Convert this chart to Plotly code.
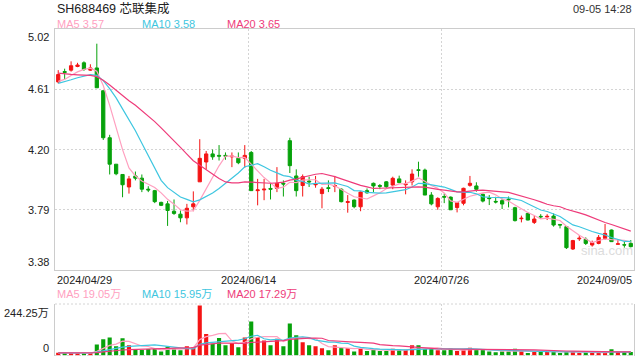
import numpy as np
import plotly.graph_objects as go

# ---------------- data ----------------
title_text = "SH688469 芯联集成"
timestamp_text = "09-05 14:28"

opens = [4.66, 4.73, 4.74, 4.765, 4.79, 4.74, 4.755, 4.60, 4.28, 4.10,
         4.03, 3.945, 4.02, 4.005, 3.93, 3.92, 3.84, 3.83, 3.78, 3.76,
         3.735, 3.81, 3.98, 4.115, 4.17, 4.16, 4.16, 4.15, 4.14, 4.14,
         4.18, 3.92, 3.925, 3.935, 3.935, 3.97, 4.26, 4.02, 3.955, 3.985,
         3.96, 3.90, 3.94, 3.95, 3.93, 3.84, 3.856, 3.81, 3.92, 3.97,
         3.955, 3.98, 3.958, 4.00, 3.96, 3.98, 4.062, 4.06, 3.89, 3.81,
         3.88, 3.876, 3.805, 3.834, 3.956, 3.952, 3.895, 3.87, 3.847, 3.852,
         3.862, 3.804, 3.729, 3.765, 3.704, 3.745, 3.741, 3.747, 3.69, 3.675,
         3.523, 3.592, 3.589, 3.55, 3.561, 3.595, 3.652, 3.555, 3.552, 3.561]
highs = [4.74, 4.75, 4.80, 4.79, 4.80, 4.78, 4.92, 4.60, 4.30, 4.10,
         4.03, 4.02, 4.05, 4.03, 3.95, 3.925, 3.845, 3.85, 3.86, 3.785,
         3.83, 3.915, 4.27, 4.19, 4.20, 4.23, 4.18, 4.18, 4.18, 4.23,
         4.19, 4.00, 4.00, 3.97, 4.08, 3.99, 4.28, 4.065, 4.03, 4.015,
         4.02, 3.945, 3.99, 4.02, 3.935, 3.89, 3.86, 3.915, 3.935, 3.975,
         3.965, 3.985, 4.015, 4.022, 3.99, 4.065, 4.117, 4.07, 3.91, 3.875,
         3.90, 3.88, 3.84, 3.94, 4.02, 3.977, 3.90, 3.89, 3.878, 3.865,
         3.88, 3.81, 3.75, 3.772, 3.75, 3.76, 3.76, 3.765, 3.693, 3.675,
         3.585, 3.618, 3.602, 3.58, 3.618, 3.693, 3.655, 3.589, 3.573, 3.584]
lows = [4.65, 4.68, 4.73, 4.76, 4.735, 4.735, 4.62, 4.265, 4.03, 4.025,
        3.875, 3.90, 3.99, 3.91, 3.91, 3.835, 3.815, 3.68, 3.755, 3.705,
        3.69, 3.78, 3.98, 4.065, 4.13, 4.125, 4.13, 4.08, 4.10, 4.075,
        3.92, 3.82, 3.855, 3.86, 3.91, 3.88, 4.04, 3.88, 3.88, 3.945,
        3.94, 3.80, 3.91, 3.91, 3.84, 3.77, 3.80, 3.78, 3.90, 3.91,
        3.93, 3.94, 3.93, 3.97, 3.895, 3.955, 4.015, 3.89, 3.82, 3.79,
        3.835, 3.788, 3.772, 3.82, 3.947, 3.913, 3.84, 3.822, 3.833, 3.795,
        3.806, 3.71, 3.704, 3.718, 3.693, 3.727, 3.72, 3.675, 3.663, 3.523,
        3.516, 3.578, 3.55, 3.539, 3.555, 3.584, 3.573, 3.555, 3.532, 3.534]
closes = [4.71, 4.725, 4.77, 4.775, 4.745, 4.755, 4.62, 4.28, 4.10, 4.035,
          3.96, 4.00, 4.005, 3.93, 3.925, 3.845, 3.82, 3.785, 3.765, 3.735,
          3.80, 3.83, 4.14, 4.17, 4.15, 4.155, 4.155, 4.155, 4.11, 4.16,
          3.92, 3.925, 3.93, 3.93, 3.97, 3.965, 4.09, 3.92, 4.015, 3.98,
          3.965, 3.93, 3.935, 3.955, 3.845, 3.845, 3.811, 3.91, 3.905, 3.952,
          3.95, 3.947, 4.004, 3.975, 3.965, 4.033, 4.058, 3.89, 3.83, 3.867,
          3.876, 3.79, 3.838, 3.936, 3.97, 3.929, 3.849, 3.866, 3.843, 3.829,
          3.858, 3.716, 3.732, 3.72, 3.727, 3.742, 3.745, 3.686, 3.686, 3.532,
          3.58, 3.596, 3.561, 3.566, 3.602, 3.629, 3.573, 3.558, 3.55, 3.539]
# volume, in 万
volumes = [13.6, 12.0, 12.0, 12.0, 12.0, 12.0, 54.2, 78.6, 88.3, 44.5,
           83.5, 49.4, 28.3, 26.6, 31.5, 31.5, 20.1, 42.9, 33.1, 25.0,
           44.5, 41.2, 244.25, 104.6, 57.5, 85.1, 49.4, 60.7, 39.6, 88.3,
           166.3, 90.0, 73.7, 49.4, 81.9, 44.5, 156.5, 98.1, 64.0, 49.4,
           44.5, 34.8, 25.0, 49.4, 36.4, 36.4, 20.1, 34.8, 21.8, 29.9,
           21.8, 21.8, 33.1, 28.3, 28.3, 49.4, 49.4, 31.5, 31.5, 25.0,
           25.0, 33.1, 21.8, 28.3, 38.0, 26.6, 28.3, 20.1, 15.3, 20.1,
           20.1, 33.1, 21.8, 12.0, 16.9, 16.9, 16.9, 16.9, 12.0, 16.9,
           16.9, 12.0, 16.9, 12.0, 13.6, 13.6, 29.9, 16.9, 16.9, 16.9]
# sessions before the visible window (estimated so the MA lines start where they do)
prior_close = [4.85, 4.83, 4.82, 4.80, 4.79, 4.78, 4.77, 4.76, 4.75, 4.75,
               4.62, 4.63, 4.64, 4.65, 4.64, 4.66, 4.64, 4.65, 4.66]
prior_volume = [13, 12, 14, 12, 13, 12, 12, 13, 14, 12,
                13, 12, 12, 13, 12, 12, 13, 12, 12]

date_labels = ["2024/04/29", "2024/06/14", "2024/07/26", "2024/09/05"]
date_label_idx = [0, 30, 60, 89]
price_ticks = [5.02, 4.61, 4.20, 3.79, 3.38]
vol_tick_vals = [244.25, 0]
vol_tick_text = ["244.25万", "0"]

ma_periods = [5, 10, 20]
price_ma_legend = [3.57, 3.58, 3.65]
vol_ma_legend = [19.05, 15.95, 17.29]

# ---------------- styles ----------------
W, H = 640, 360
UP, DOWN = "#f41414", "#07a20b"
MA_COLORS = ["#ff9fbf", "#3ec6e0", "#ee3b7a"]
GRID = "#d4d4d4"
BORDER = "#cccccc"
FONT = "Arial, 'Liberation Sans', 'Noto Sans CJK SC', sans-serif"

px_l, px_r = 55, 634
p_top, p_bot = 29, 270
v_top, v_bot = 304, 355.5
n = len(closes)
idx = list(range(n))


def ma(prior, vals, k):
    full = np.array(prior + vals, dtype=float)
    s = np.convolve(full, np.ones(k) / k, mode="valid")
    return s[-len(vals):]


fig = go.Figure()
fig.add_trace(go.Candlestick(
    x=idx, open=opens, high=highs, low=lows, close=closes,
    increasing=dict(line=dict(color=UP, width=1), fillcolor=UP),
    decreasing=dict(line=dict(color=DOWN, width=1), fillcolor=DOWN),
    whiskerwidth=0, showlegend=False, hoverinfo="skip",
    xaxis="x", yaxis="y"))
for k, c in zip(ma_periods, MA_COLORS):
    fig.add_trace(go.Scatter(x=idx, y=ma(prior_close, closes, k), mode="lines",
                             line=dict(color=c, width=1.2), showlegend=False,
                             hoverinfo="skip", xaxis="x", yaxis="y"))

vol_colors = [UP if c >= o else DOWN for o, c in zip(opens, closes)]
fig.add_trace(go.Bar(x=idx, y=volumes, marker=dict(color=vol_colors, line=dict(width=0)),
                     showlegend=False, hoverinfo="skip", xaxis="x2", yaxis="y2"))
for k, c in zip(ma_periods, MA_COLORS):
    fig.add_trace(go.Scatter(x=idx, y=ma(prior_volume, volumes, k), mode="lines",
                             line=dict(color=c, width=1.2), showlegend=False,
                             hoverinfo="skip", xaxis="x2", yaxis="y2"))

xdom = [px_l / W, px_r / W]
vgrid = [date_label_idx[1] - 0.5, date_label_idx[2] - 0.5]
common_x = dict(domain=xdom, range=[-0.5, n - 0.5], tickvals=vgrid, showticklabels=False,
                showgrid=True, gridcolor=GRID, griddash="2px,2px", zeroline=False,
                ticks="", fixedrange=True)
fig.update_layout(
    width=W, height=H, margin=dict(l=0, r=0, t=0, b=0),
    paper_bgcolor="white", plot_bgcolor="white",
    font=dict(family=FONT, size=11, color="#333"),
    boxgap=0.28, bargap=0.36,
    xaxis=dict(**common_x, anchor="y", showline=True, mirror=True, linecolor=BORDER,
               rangeslider=dict(visible=False)),
    yaxis=dict(domain=[1 - p_bot / H, 1 - p_top / H], range=[price_ticks[-1], price_ticks[0]],
               tickvals=price_ticks[1:-1], showticklabels=False, showgrid=True,
               gridcolor=GRID, griddash="2px,2px", zeroline=False, showline=True,
               mirror=True, linecolor=BORDER, ticks=""),
    xaxis2=dict(**common_x, anchor="y2", matches="x", showline=False),
    yaxis2=dict(domain=[1 - v_bot / H, 1 - v_top / H], range=[0, 251], showticklabels=False,
                showgrid=False, zeroline=False, showline=True, mirror=True,
                linecolor=BORDER, ticks=""),
)

shapes = []
for yy in (0, 1):
    shapes.append(dict(type="line", xref="x2 domain", yref="y2 domain", x0=0, x1=1, y0=yy, y1=yy,
                       line=dict(color=GRID, width=1, dash="2px,2px")))
fig.update_layout(shapes=shapes)

ann = []
ann.append(dict(text=title_text, x=px_l / W, y=1 - 8 / H, xref="paper", yref="paper",
                xanchor="left", yanchor="middle", showarrow=False,
                font=dict(size=12.5, color="#222")))
ann.append(dict(text=timestamp_text, x=px_r / W, y=1 - 9 / H, xref="paper", yref="paper",
                xanchor="right", yanchor="middle", showarrow=False, font=dict(size=11, color="#333")))
legend_x = [55, 140, 225]
for k, c, v, lx in zip(ma_periods, MA_COLORS, price_ma_legend, legend_x):
    ann.append(dict(text=f"MA{k} {v:.2f}", x=lx / W, y=1 - 24 / H, xref="paper", yref="paper",
                    xanchor="left", yanchor="middle", showarrow=False, font=dict(size=11, color=c)))
for k, c, v, lx in zip(ma_periods, MA_COLORS, vol_ma_legend, legend_x):
    ann.append(dict(text=f"MA{k} {v:.2f}万", x=lx / W, y=1 - 294 / H, xref="paper", yref="paper",
                    xanchor="left", yanchor="middle", showarrow=False, font=dict(size=11, color=c)))
for i, t in enumerate(price_ticks):
    ya = "top" if i == 0 else ("bottom" if i == len(price_ticks) - 1 else "middle")
    ann.append(dict(text=f"{t:.2f}", x=51 / W, y=t, xref="paper", yref="y", xanchor="right",
                    yanchor=ya, showarrow=False, font=dict(size=11, color="#222")))
for v, t, ya in zip(vol_tick_vals, vol_tick_text, ["top", "bottom"]):
    ann.append(dict(text=t, x=51 / W, y=v, xref="paper", yref="y2", xanchor="right",
                    yanchor=ya, showarrow=False, font=dict(size=11, color="#222")))
for j, (lab, di) in enumerate(zip(date_labels, date_label_idx)):
    if j == 0:
        xa, xv = "left", di - 0.5
    elif j == len(date_labels) - 1:
        xa, xv = "right", di + 0.5
    else:
        xa, xv = "center", di - 0.5
    ann.append(dict(text=lab, x=xv, y=1 - 272 / H, xref="x", yref="paper", xanchor=xa,
                    yanchor="top", showarrow=False, font=dict(size=11, color="#222")))
ann.append(dict(text="sina.com", x=607 / W, y=1 - 250 / H, xref="paper", yref="paper",
                xanchor="center", yanchor="middle", showarrow=False,
                font=dict(size=13, color="#dcdcdc")))
fig.update_layout(annotations=ann)

fig.write_html("out.html")
